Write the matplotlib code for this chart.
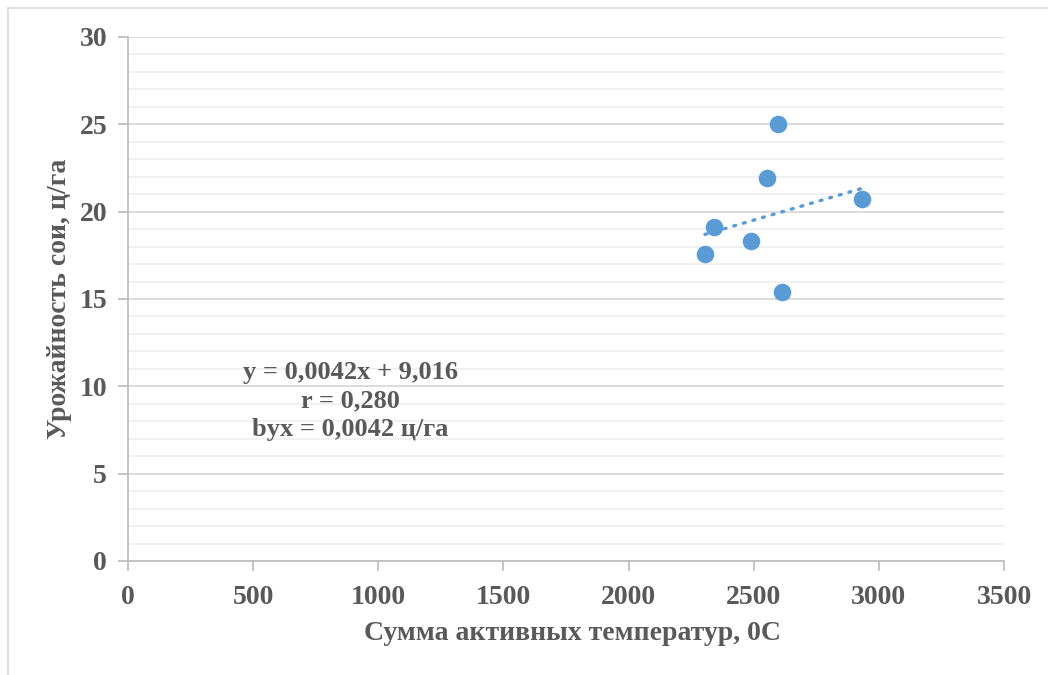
import matplotlib
matplotlib.use("Agg")
import matplotlib.pyplot as plt
from matplotlib.lines import Line2D
from matplotlib.ticker import MultipleLocator

# Data
temp_sum = [2305, 2341, 2489, 2553, 2597, 2613, 2933]
yield_soy = [17.6, 19.1, 18.3, 21.9, 25.0, 15.4, 20.7]
slope = 0.0042
intercept = 9.016
x_ticks = [0, 500, 1000, 1500, 2000, 2500, 3000, 3500]
y_ticks = [0, 5, 10, 15, 20, 25, 30]
annotation = "y = 0,0042x + 9,016\nr = 0,280\nbyx = 0,0042 ц/га"
xlabel = "Сумма активных температур, 0С"
ylabel = "Урожайность сои, ц/га"

plt.rcParams['font.family'] = ['Liberation Serif', 'DejaVu Serif']
plt.rcParams['font.weight'] = 'bold'
txt = '#595959'
blue = '#5B9BD5'

fig = plt.figure(figsize=(10.48, 6.75), dpi=100)
ax = fig.add_axes([128/1048, 1-561/675, (1004-128)/1048, (561-37)/675])

ax.set_xlim(0, 3500)
ax.set_ylim(0, 30)
ax.set_xticks(x_ticks)
ax.set_yticks(y_ticks)
ax.yaxis.set_minor_locator(MultipleLocator(1))
ax.grid(axis='y', which='major', color='#D9D9D9', linewidth=1.3, zorder=0)
ax.grid(axis='y', which='minor', color='#F0F0F0', linewidth=1.3, zorder=0)
ax.tick_params(axis='y', which='minor', length=0)
ax.tick_params(axis='both', which='major', length=7, width=1.3, color='#BFBFBF',
               labelsize=20, labelcolor=txt)
ax.tick_params(axis='x', which='major', pad=10)
ax.tick_params(axis='y', which='major', pad=8)
for lab in ax.get_xticklabels() + ax.get_yticklabels():
    lab.set_fontweight('bold')
for s in ['top', 'right']:
    ax.spines[s].set_visible(False)
for s in ['left', 'bottom']:
    ax.spines[s].set_color('#BFBFBF')
    ax.spines[s].set_linewidth(1.3)
ax.set_axisbelow(True)

ax.scatter(temp_sum, yield_soy, s=160, color=blue, zorder=3, linewidths=0)

xs = [min(temp_sum), max(temp_sum)]
ys = [slope * v + intercept for v in xs]
ax.plot(xs, ys, color=blue, linewidth=2.4, linestyle=(0, (0.6, 2.4)),
        dash_capstyle='round', zorder=2)

ax.text(887, 9.16, annotation, ha='center', va='center', multialignment='center',
        fontsize=19, fontweight='bold', color=txt, linespacing=1.3)

ax.set_xlabel(xlabel, fontsize=20, fontweight='bold', color=txt)
ax.set_ylabel(ylabel, fontsize=20, fontweight='bold', color=txt)
ax.xaxis.label.set_va('center')
ax.yaxis.label.set_va('center')
ax.xaxis.set_label_coords(0.507, (561-633)/524)
ax.yaxis.set_label_coords((60-128)/876, 0.5)

# outer chart border (top and left visible)
fig.add_artist(Line2D([7.5/1048, 7.5/1048], [0, 1-8/675], transform=fig.transFigure,
                      color='#D9D9D9', linewidth=1.2))
fig.add_artist(Line2D([7.5/1048, 1], [1-8/675, 1-8/675], transform=fig.transFigure,
                      color='#D9D9D9', linewidth=1.2))

fig.savefig('out.png', dpi=100)
